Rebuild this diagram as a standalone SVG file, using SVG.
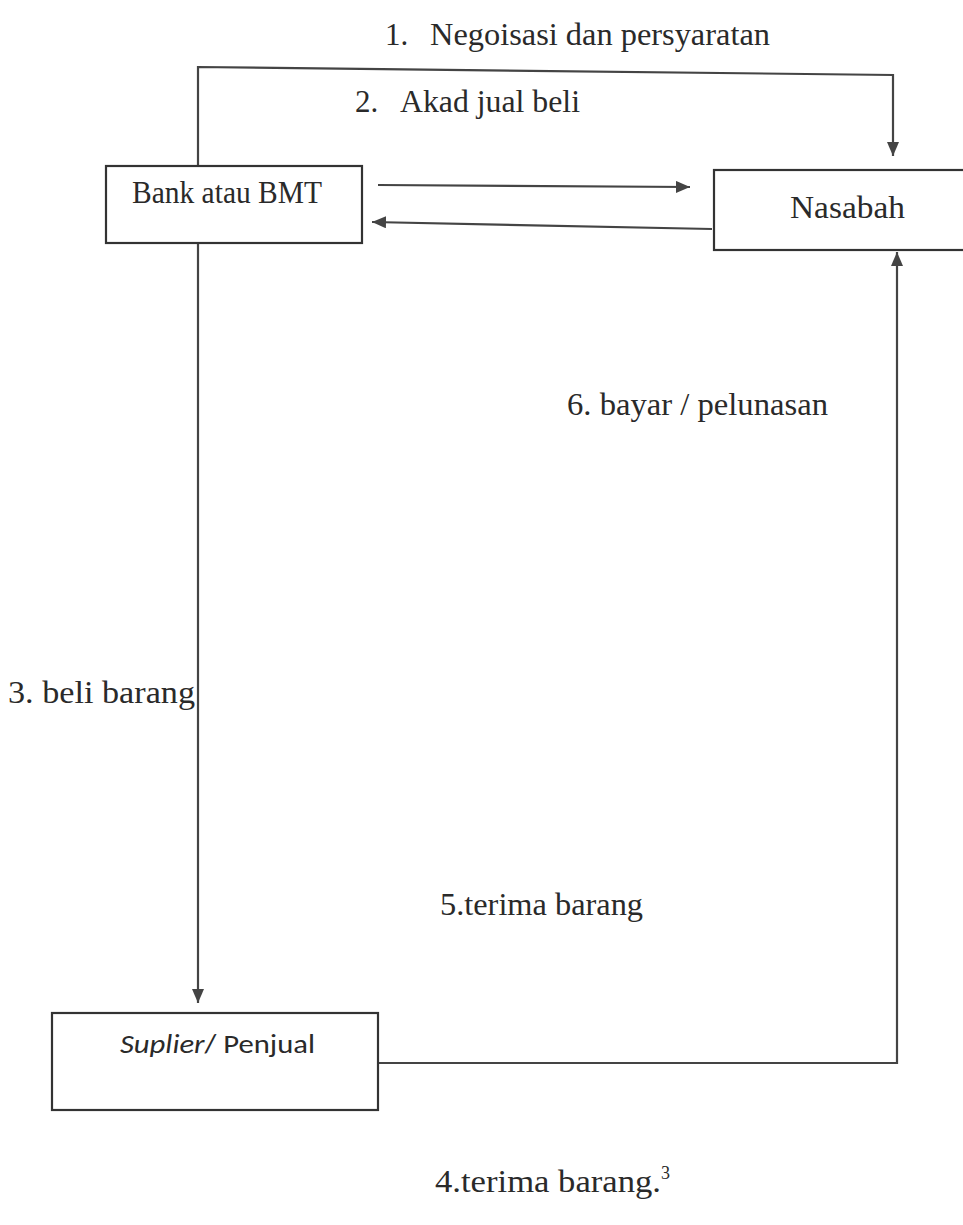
<svg xmlns="http://www.w3.org/2000/svg" width="963" height="1225" viewBox="0 0 963 1225">
<style>
.t{font-family:"Liberation Serif","Times New Roman",serif;fill:#2a2a2a;font-size:31px}
.box{fill:#fff;stroke:#333;stroke-width:2.2}
.ln{fill:none;stroke:#444;stroke-width:2.2}
</style>
<defs>
<marker id="ah" viewBox="0 0 10 10" refX="10" refY="5" markerWidth="14" markerHeight="12" markerUnits="userSpaceOnUse" orient="auto" preserveAspectRatio="none">
<path d="M0,0 L10,5 L0,10 z" fill="#444"/>
</marker>
</defs>
<rect width="963" height="1225" fill="#fff"/>
<g id="connectors">
<polyline class="ln" points="198,166 198,67 893,75 893,156" marker-end="url(#ah)"/>
<line class="ln" x1="378" y1="185" x2="690" y2="187" marker-end="url(#ah)"/>
<line class="ln" x1="712" y1="229" x2="372" y2="222" marker-end="url(#ah)"/>
<line class="ln" x1="198" y1="243" x2="198" y2="1003" marker-end="url(#ah)"/>
<polyline class="ln" points="378,1063 897,1063 897,252" marker-end="url(#ah)"/>
</g>
<g id="labels">
<text class="t" y="45"><tspan x="385">1.</tspan><tspan x="430" textLength="340" lengthAdjust="spacingAndGlyphs">Negoisasi dan persyaratan</tspan></text>
<text class="t" y="112"><tspan x="355">2.</tspan><tspan x="400" textLength="180" lengthAdjust="spacingAndGlyphs">Akad jual beli</tspan></text>
<text class="t" x="8" y="703" textLength="187" lengthAdjust="spacingAndGlyphs">3. beli barang</text>
<text class="t" x="567" y="415" textLength="261" lengthAdjust="spacingAndGlyphs">6. bayar / pelunasan</text>
<text class="t" x="440" y="915" textLength="203" lengthAdjust="spacingAndGlyphs">5.terima barang</text>
<text class="t" x="435" y="1192"><tspan textLength="226" lengthAdjust="spacingAndGlyphs">4.terima barang.</tspan><tspan font-size="18" dy="-13">3</tspan></text>
</g>
<g id="bank">
<rect class="box" x="106" y="166" width="256" height="77"/>
<text class="t" x="132" y="203" font-size="27" textLength="190" lengthAdjust="spacingAndGlyphs">Bank atau BMT</text>
</g>
<g id="nasabah">
<rect class="box" x="714" y="170" width="260" height="80"/>
<text class="t" x="790" y="218" font-size="30" textLength="115" lengthAdjust="spacingAndGlyphs">Nasabah</text>
</g>
<g id="supplier">
<rect class="box" x="52" y="1013" width="326" height="97"/>
<text x="120" y="1053" font-size="27" font-family="Carlito,'Liberation Sans',sans-serif" fill="#2a2a2a" textLength="195" lengthAdjust="spacingAndGlyphs"><tspan font-style="italic">Suplier</tspan>/ Penjual</text>
</g>
</svg>
